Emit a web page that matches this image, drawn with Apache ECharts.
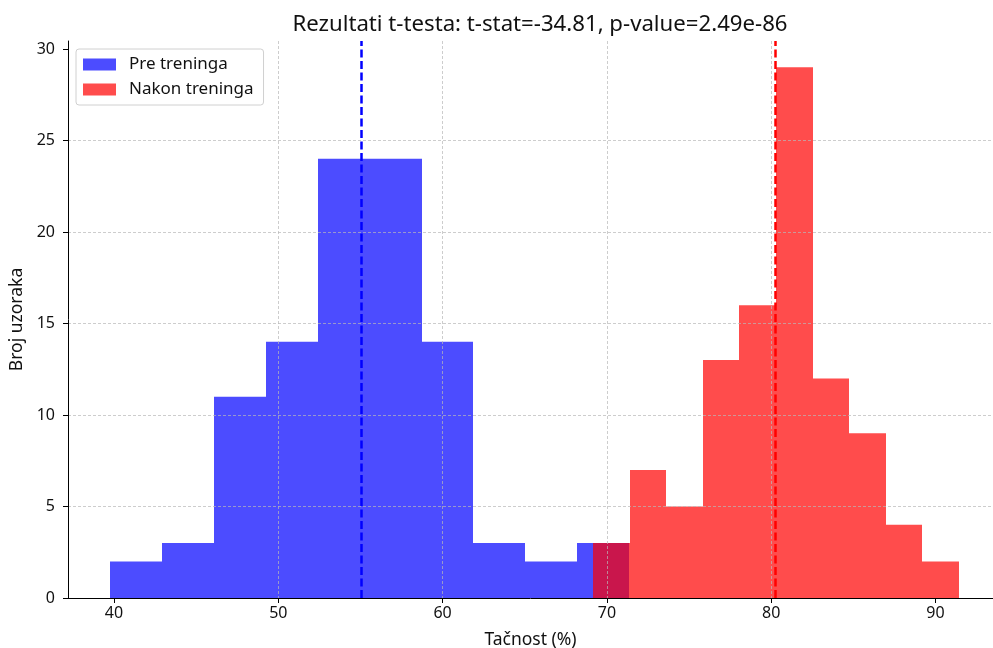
<!DOCTYPE html>
<html>
<head>
<meta charset="utf-8">
<script src="https://cdn.jsdelivr.net/npm/echarts@6/dist/echarts.min.js"></script>
<style>
  html, body { margin: 0; padding: 0; background: #fff; }
  #chart { width: 993px; height: 648px; }
</style>
</head>
<body>
<div id="chart"></div>
<script>
// Histogram bin edges and counts for both groups
const preEdges = [39.76, 42.92, 46.08, 49.24, 52.40, 55.56, 58.72, 61.88, 65.04, 68.20, 71.36];
const preCounts = [2, 3, 11, 14, 24, 24, 14, 3, 2, 3];
const postEdges = [69.15, 71.38, 73.61, 75.83, 78.06, 80.29, 82.52, 84.75, 86.97, 89.20, 91.43];
const postCounts = [3, 7, 5, 13, 16, 29, 12, 9, 4, 2];

// Group means (dashed vertical lines)
const preMean = 55.03;
const postMean = 80.23;

// Tick values
const xTicks = [40, 50, 60, 70, 80, 90];
const yTicks = [0, 5, 10, 15, 20, 25, 30];

const seriesNames = ['Pre treninga', 'Nakon treninga'];
const titleText = 'Rezultati t-testa: t-stat=-34.81, p-value=2.49e-86';

function binsOf(edges, counts) {
  return counts.map((c, i) => [edges[i], edges[i + 1], c]);
}

function renderBin(params, api) {
  const p0 = api.coord([api.value(0), api.value(2)]);
  const p1 = api.coord([api.value(1), 0]);
  const x0 = Math.round(p0[0]);
  const x1 = Math.round(p1[0]);
  return {
    type: 'rect',
    shape: { x: x0, y: p0[1], width: x1 - x0, height: p1[1] - p0[1] },
    style: { fill: api.visual('color') }
  };
}

const FONT = 'Noto Sans';
const TICK_SIZE = 16;
const LABEL_SIZE = 17.5;
const gridLine = { show: true, showMinLine: false, showMaxLine: false,
  lineStyle: { color: '#b8b8b8', width: 0.7, type: [3, 2] } };

const chart = echarts.init(document.getElementById('chart'), null, { renderer: 'canvas' });
chart.setOption({
  animation: false,
  backgroundColor: '#fff',
  textStyle: { fontFamily: FONT },
  title: {
    text: titleText,
    left: 540,
    textAlign: 'center',
    top: 14,
    padding: 0,
    textStyle: { fontFamily: FONT, fontSize: 22.2, fontWeight: 'normal', color: '#111' }
  },
  legend: {
    data: seriesNames,
    orient: 'vertical',
    left: 76,
    top: 49,
    padding: [7, 10, 7, 7],
    itemWidth: 33,
    itemHeight: 12,
    itemGap: 8,
    icon: 'rect',
    backgroundColor: 'rgba(255,255,255,0.8)',
    borderColor: '#d0d0d0',
    borderWidth: 1,
    borderRadius: 3,
    textStyle: { fontFamily: FONT, fontSize: 17, color: '#111', padding: [0, 0, 0, 8] }
  },
  grid: { left: 68, right: 0, top: 41, bottom: 50, outerBoundsMode: 'none', containLabel: false },
  xAxis: {
    type: 'value',
    min: 37.2,
    max: 93.5,
    name: 'Tačnost (%)',
    nameLocation: 'middle',
    nameGap: 33,
    nameTextStyle: { fontFamily: FONT, fontSize: LABEL_SIZE, color: '#111' },
    axisLine: { show: true, onZero: false, lineStyle: { color: '#000', width: 1 } },
    axisTick: { show: true, customValues: xTicks, length: 5, lineStyle: { color: '#000' } },
    axisLabel: { customValues: xTicks, fontFamily: FONT, fontSize: TICK_SIZE, color: '#111', margin: 7 },
    splitLine: gridLine
  },
  yAxis: {
    type: 'value',
    min: 0,
    max: 30.44,
    name: 'Broj uzoraka',
    nameLocation: 'middle',
    nameGap: 40,
    nameTextStyle: { fontFamily: FONT, fontSize: LABEL_SIZE, color: '#111' },
    axisLine: { show: true, onZero: false, lineStyle: { color: '#000', width: 1 } },
    axisTick: { show: true, customValues: yTicks, length: 5, lineStyle: { color: '#000' } },
    axisLabel: { customValues: yTicks, fontFamily: FONT, fontSize: TICK_SIZE, color: '#111', margin: 13 },
    splitLine: gridLine
  },
  series: [
    {
      name: seriesNames[0],
      type: 'custom',
      z: -1,
      itemStyle: { color: 'rgba(0,0,255,0.7)' },
      renderItem: renderBin,
      encode: { x: [0, 1], y: 2 },
      data: binsOf(preEdges, preCounts)
    },
    {
      name: seriesNames[1],
      type: 'custom',
      z: -1,
      itemStyle: { color: 'rgba(255,0,0,0.7)' },
      renderItem: renderBin,
      encode: { x: [0, 1], y: 2 },
      data: binsOf(postEdges, postCounts)
    },
    {
      name: 'mean',
      type: 'line',
      z: 5,
      data: [],
      markLine: {
        silent: true,
        symbol: 'none',
        label: { show: false },
        data: [
          { xAxis: preMean, lineStyle: { color: '#0000ff', width: 2.5, type: [8, 3.5] } },
          { xAxis: postMean, lineStyle: { color: '#ff0000', width: 2.5, type: [8, 3.5] } }
        ]
      }
    }
  ]
});
</script>
</body>
</html>
